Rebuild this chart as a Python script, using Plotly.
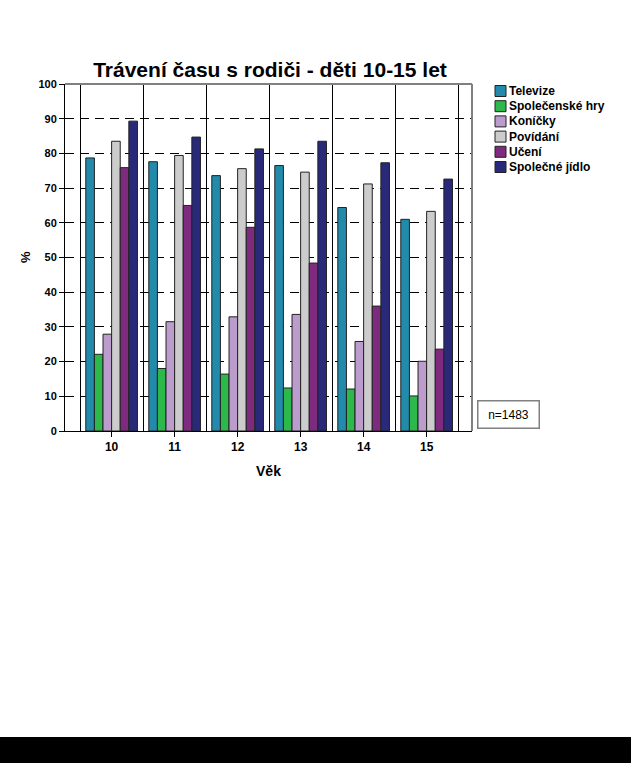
import plotly.graph_objects as go

ages = [10, 11, 12, 13, 14, 15]
series_names = ["Televize", "Společenské hry", "Koníčky", "Povídání", "Učení", "Společné jídlo"]
televize = [78.7, 77.6, 73.6, 76.5, 64.4, 61.0]
spolecenske_hry = [22.1, 18.0, 16.4, 12.4, 12.1, 10.1]
konicky = [27.9, 31.5, 32.9, 33.6, 25.8, 20.1]
povidani = [83.5, 79.4, 75.6, 74.6, 71.2, 63.3]
uceni = [75.9, 65.0, 58.7, 48.4, 36.0, 23.6]
spolecne_jidlo = [89.3, 84.7, 81.3, 83.5, 77.3, 72.6]
colors = ["#228BAB", "#2DB84B", "#BB9CCC", "#CCCCCC", "#7E2A7E", "#29297A"]
n_label = "n=1483"

values = [televize, spolecenske_hry, konicky, povidani, uceni, spolecne_jidlo]

W, H = 631, 763
L, R, T, B = 65, 472, 84, 431
pw, ph = R - L, B - T

def px(x):
    return (x - L) / pw

def py(y):
    return (B - y) / ph

fig = go.Figure()
for name, vals, col in zip(series_names, values, colors):
    fig.add_trace(go.Bar(
        x=ages, y=vals, name=name, showlegend=False,
        marker=dict(color=col, line=dict(color="#222222", width=1)),
    ))

font_family = "Liberation Sans, Arial, sans-serif"

shapes = [
    dict(type="line", xref="paper", yref="paper", x0=0, x1=1, y0=1, y1=1,
         line=dict(color="#808080", width=2), layer="above"),
    dict(type="line", xref="paper", yref="paper", x0=1, x1=1, y0=0, y1=1,
         line=dict(color="#808080", width=2), layer="above"),
    dict(type="rect", xref="paper", yref="paper",
         x0=px(-20), x1=px(W + 20), y0=py(H + 20), y1=py(737),
         fillcolor="black", line=dict(width=0), layer="above"),
]
annotations = [
    dict(text=n_label, xref="paper", yref="paper",
         x=px(509), y=py(414), xanchor="center", yanchor="middle",
         showarrow=False, font=dict(size=12, family=font_family, color="black"),
         bordercolor="#808080", borderwidth=1.5, borderpad=6, bgcolor="white",
         width=48),
    dict(text="<b>%</b>", xref="paper", yref="paper",
         x=px(25), y=py(257), xanchor="center", yanchor="middle", textangle=-90,
         showarrow=False, font=dict(size=13, family=font_family, color="black")),
]
# manual legend
for i, (name, col) in enumerate(zip(series_names, colors)):
    yc = 91 + i * 15.2
    shapes.append(dict(type="rect", xref="paper", yref="paper",
                       x0=px(495), x1=px(506), y0=py(yc + 5.5), y1=py(yc - 5.5),
                       fillcolor=col, line=dict(color="#222222", width=1), layer="above"))
    annotations.append(dict(text=f"<b>{name}</b>", xref="paper", yref="paper",
                            x=px(507), y=py(yc), xanchor="left", yanchor="middle",
                            showarrow=False,
                            font=dict(size=12, family=font_family, color="black")))

fig.update_layout(
    width=W, height=H,
    margin=dict(l=L, r=W - R, t=T, b=H - B, pad=0, autoexpand=False),
    paper_bgcolor="white", plot_bgcolor="white",
    barmode="group", bargap=0.18, bargroupgap=0,
    font=dict(family=font_family, color="black", size=11),
    title=dict(text="<b>Trávení času s rodiči - děti 10-15 let</b>",
               x=270 / W, xanchor="center", y=1 - 70 / H, yanchor="middle",
               font=dict(size=21, family=font_family, color="black")),
    showlegend=False,
    xaxis=dict(
        range=[9.26, 15.72], tickvals=ages, ticktext=[f"<b>{a}</b>" for a in ages],
        ticks="outside", ticklen=5, tickcolor="black", automargin=False,
        showline=True, linecolor="black", linewidth=1,
        showgrid=False, zeroline=False,
        minor=dict(showgrid=True, gridcolor="black", gridwidth=1, tick0=9.5, dtick=1, ticks=""),
        tickfont=dict(size=12),
        title=dict(text="<b>Věk</b>", font=dict(size=14), standoff=12),
    ),
    yaxis=dict(
        range=[0, 100], tickvals=list(range(0, 101, 10)),
        ticktext=[f"<b>{v}</b>" for v in range(0, 101, 10)],
        ticks="outside", ticklen=5, tickcolor="black", automargin=False,
        showline=True, linecolor="black", linewidth=1,
        showgrid=True, gridcolor="black", gridwidth=1, griddash="9px,6px",
        zeroline=False, tickfont=dict(size=11),
    ),
    shapes=shapes,
    annotations=annotations,
)

fig.write_html("out.html")
